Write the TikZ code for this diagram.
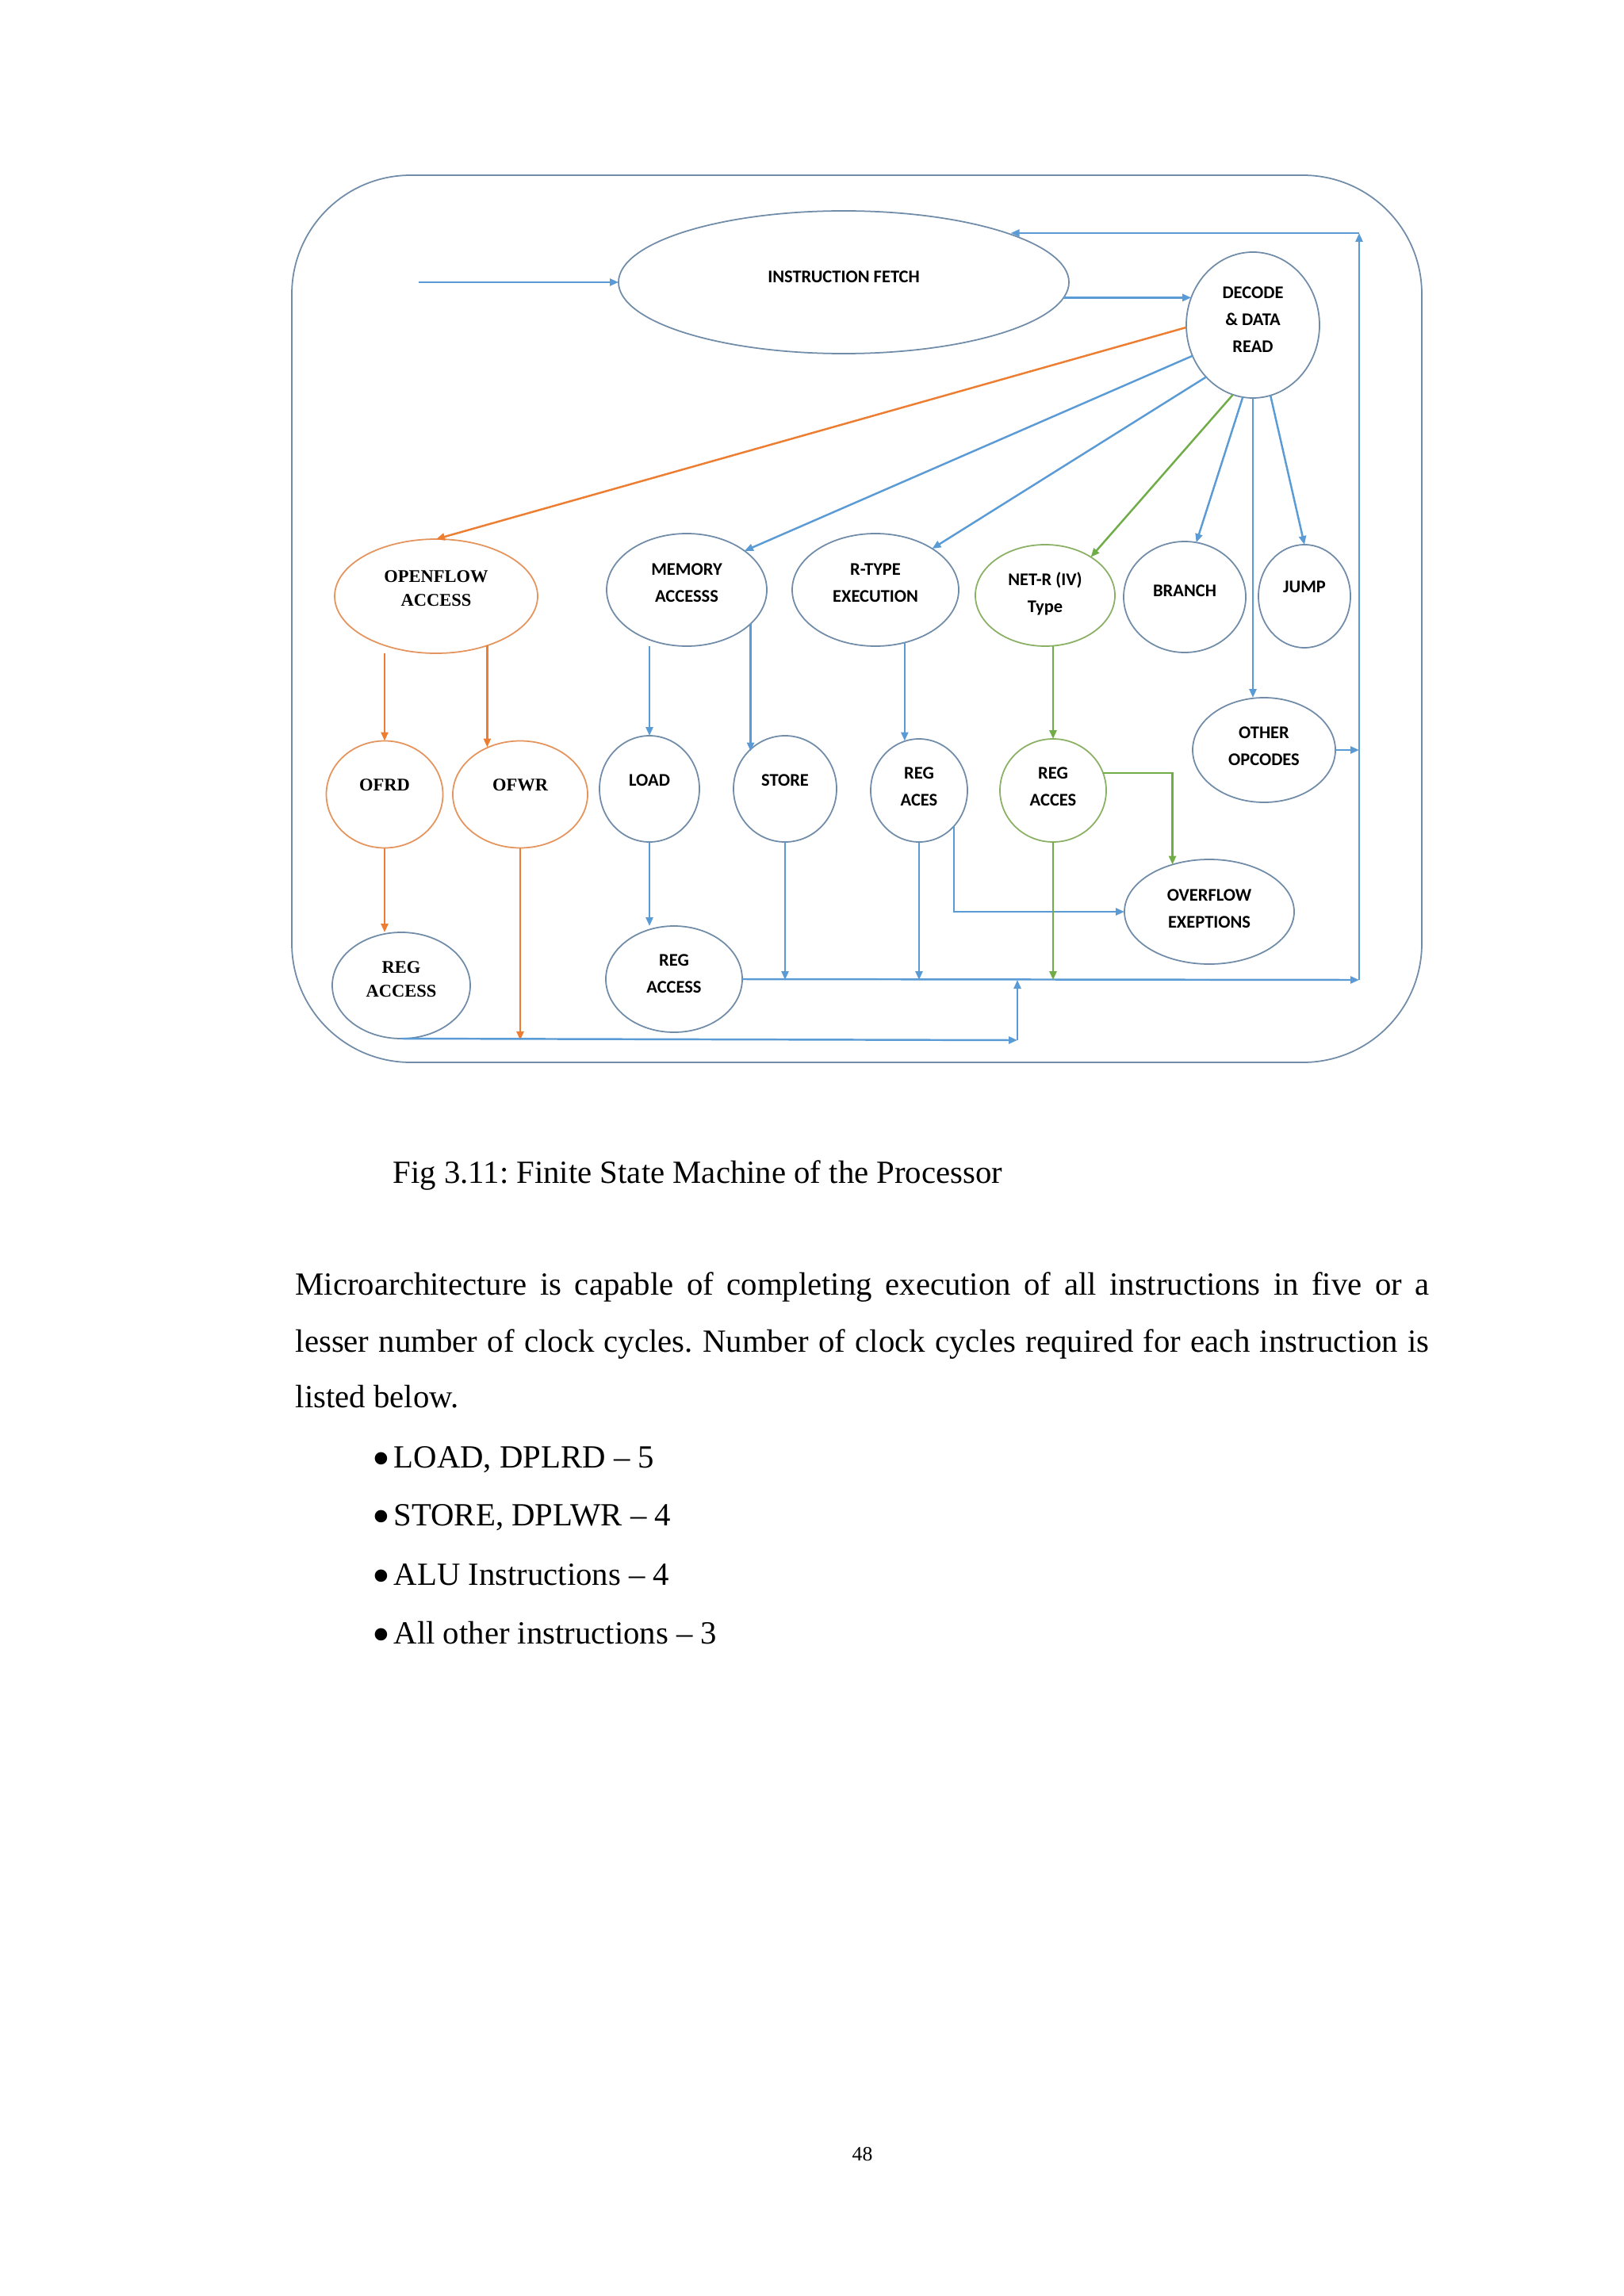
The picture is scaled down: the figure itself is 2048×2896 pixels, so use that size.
\documentclass[tikz,border=0pt]{standalone}
\usepackage{fontspec}
\setmainfont{Liberation Serif}
\newfontfamily\calfont{Carlito}
\usepackage{xcolor}
\usepackage{graphicx}
\usepackage{tikz}
\usetikzlibrary{shapes.geometric}
\usetikzlibrary{arrows.meta}

\definecolor{wireblue}{RGB}{91,155,213}
\definecolor{rimblue}{RGB}{112,140,168}
\definecolor{flowor}{RGB}{237,125,49}
\definecolor{flowrim}{RGB}{228,148,92}
\definecolor{netgreen}{RGB}{112,173,71}
\definecolor{netrim}{RGB}{138,176,100}

\newcommand{\bulletmark}{\makebox[2.7mm][l]{\raisebox{-1mm}{\scalebox{1.6}{\textbullet}}}}

\begin{document}
\frenchspacing
\begin{tikzpicture}[x=0.1mm, y=-0.1mm,
    state/.style={ellipse, draw=rimblue, line width=0.5pt, inner sep=0pt, outer sep=0pt, align=center,
                  font=\calfont\bfseries\fontsize{6.4}{9.6}\selectfont, text depth=1.4mm},
    serifstate/.style={state, font=\bfseries\fontsize{6.4}{8.5}\selectfont},
    ofstate/.style={serifstate, draw=flowrim},
    wire/.style={-{Triangle[length=1.1mm, width=0.9mm]}, wireblue, line width=0.7pt},
    owire/.style={wire, flowor},
    gwire/.style={wire, netgreen},
    body/.style={anchor=base west, inner sep=0pt, font=\fontsize{11.6}{14}\selectfont}]

    % Page
    \fill[white] (0,0) rectangle (2048,2896);
    \useasboundingbox (0,0) rectangle (2048,2896);

    % Frame
    \draw[rimblue, line width=0.5pt, rounded corners=15mm] (368,221) rectangle (1793,1340);

    % Fetch and decode
    \node[state, minimum width=56.8mm, minimum height=18mm] (fetch) at (1064,356) {INSTRUCTION FETCH};
    \node[state, minimum width=16.8mm, minimum height=18.4mm] (decode) at (1580,410) {DECODE\\\& DATA\\READ};
    \coordinate (entry) at (528,356);
    \coordinate (rtop) at (1714,294);
    \coordinate (rbot) at (1714,1236);
    \coordinate (bcorner) at (1283,1312);

    % Second row
    \node[ofstate, minimum width=25.6mm, minimum height=14.4mm, text depth=2mm] (open) at (550,752) {OPENFLOW\\ACCESS};
    \node[state, minimum width=20.2mm, minimum height=14.2mm, text depth=1.8mm] (mem) at (866,744) {MEMORY\\ACCESSS};
    \node[state, minimum width=21mm, minimum height=14.2mm, text depth=1.8mm] (rtype) at (1104,744) {R-TYPE\\EXECUTION};
    \node[state, draw=netrim, minimum width=17.6mm, minimum height=12.8mm, text depth=0.8mm] (netr) at (1318,751) {NET-R (IV)\\Type};
    \node[state, minimum width=15.4mm, minimum height=14mm, text depth=1.6mm] (branch) at (1494,753) {BRANCH};
    \node[state, minimum width=11.6mm, minimum height=13mm, text depth=2.4mm] (jump) at (1645,752) {JUMP};

    % Third row
    \node[ofstate, minimum width=14.7mm, minimum height=13.5mm, text depth=2.4mm] (ofrd) at (485,1002) {OFRD};
    \node[ofstate, minimum width=17mm, minimum height=13.5mm, text depth=2.4mm] (ofwr) at (656,1002) {OFWR};
    \node[state, minimum width=12.6mm, minimum height=13.4mm, text depth=2.2mm] (load) at (819,995) {LOAD};
    \node[state, minimum width=13mm, minimum height=13.4mm, text depth=2.2mm] (store) at (990,995) {STORE};
    \node[state, minimum width=12.2mm, minimum height=13mm, text depth=1mm] (regaces) at (1159,997) {REG\\ACES};
    \node[state, draw=netrim, minimum width=13.4mm, minimum height=13mm, text depth=1mm] (regacces) at (1328,997) {REG\\ACCES};
    \node[state, minimum width=18mm, minimum height=13.2mm, text depth=1mm] (other) at (1594,946) {OTHER\\OPCODES};
    \node[state, minimum width=21.4mm, minimum height=13.2mm, text depth=0.8mm] (overflow) at (1525,1150) {OVERFLOW\\EXEPTIONS};

    % Fourth row
    \node[serifstate, minimum width=17.4mm, minimum height=13.4mm, text depth=1.6mm] (regacc1) at (506,1243) {REG\\ACCESS};
    \node[state, minimum width=17.2mm, minimum height=13.4mm, text depth=1.4mm] (regacc2) at (850,1235) {REG\\ACCESS};

    % Fetch loop
    \draw[wire] (entry) -- (fetch.west);
    \draw[wire] (fetch.-4) -- (fetch.-4 -| decode.156);
    \draw[wire] (rbot) -- (rtop);
    \draw[wire] (rtop) -- (rtop -| fetch.16);

    % Decode branches
    \draw[owire] (decode.182) -- (open.north);
    \draw[wire] (decode.207) -- (mem.34);
    \draw[wire] (decode.228) -- (rtype.36);
    \draw[gwire] (decode.254) -- (netr.40);
    \draw[wire] (decode.262) -- (branch.78);
    \draw[wire] (decode.south) -- (decode.south |- other.north);
    \draw[wire] (decode.284) -- (jump.north);
    \draw[wire] (other.east) -- (other.east -| rtop);

    % Openflow
    \draw[owire] (open.south -| ofrd.north) -- (ofrd.north);
    \draw[owire] (open.-44) -- (open.-44 |- ofwr.124);
    \draw[owire] (ofrd.south) -- (ofrd.south |- regacc1.north);
    \draw[owire] (ofwr.south) -- (ofwr.south |- bcorner);

    % Memory and execution
    \draw[wire] (load.north |- mem.south) -- (load.north);
    \draw[wire] (mem.-28) -- (mem.-28 |- store.134);
    \draw[wire] (rtype.-61) -- (rtype.-61 |- regaces.105);
    \draw[gwire] (regacces.north |- netr.south) -- (regacces.north);
    \draw[gwire] (regacces.19) -| (overflow.128);
    \draw[wire] (regaces.-46) |- (overflow.west);
    \draw[wire] (load.south) -- (load.south |- regacc2.north);

    % Write-back buses
    \draw[wire] (regacc1.south) -- (bcorner);
    \draw[wire] (bcorner) -- (bcorner |- rbot);
    \draw[wire] (regacc2.east) -- (rbot);
    \draw[wire] (store.south) -- (store.south |- rbot);
    \draw[wire] (regaces.south) -- (regaces.south |- rbot);
    \draw[gwire] (regacces.south) -- (regacces.south |- rbot);

    % Caption and text
    \node[body] (caption) at (495,1492) {Fig 3.11: Finite State Machine of the Processor};
    \node[body] (line1) at (372,1633) {\makebox[143mm][s]{Microarchitecture is capable of completing execution of all instructions in five or a}};
    \node[body] (line2) at (372,1705) {\makebox[143mm][s]{lesser number of clock cycles. Number of clock cycles required for each instruction is}};
    \node[body] (line3) at (372,1775) {listed below.};
    \node[body] (item1) at (469,1851) {\bulletmark LOAD, DPLRD -- 5};
    \node[body] (item2) at (469,1924) {\bulletmark STORE, DPLWR -- 4};
    \node[body] (item3) at (469,1999) {\bulletmark ALU Instructions -- 4};
    \node[body] (item4) at (469,2073) {\bulletmark All other instructions -- 3};
    \node[body, font=\fontsize{7.3}{9}\selectfont] (pagenum) at (1074,2725) {48};
\end{tikzpicture}
\end{document}
